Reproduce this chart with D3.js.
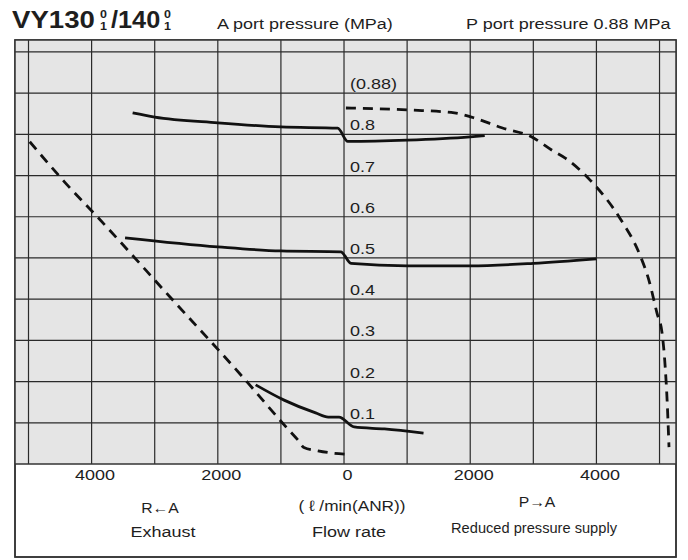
<!DOCTYPE html>
<html><head><meta charset="utf-8">
<script src="https://cdn.jsdelivr.net/npm/d3@7"></script>
<style>body{margin:0;background:#fff}</style></head>
<body><svg id="c" width="688" height="560"></svg>
<script>
// ---- data ----
const xTickValues = [-4000, -2000, 0, 2000, 4000];          // flow (l/min); negative = exhaust side
const xGridValues = [-5000, -4000, -3000, -2000, -1000, 0, 1000, 2000, 3000, 4000, 5000];
const yGridValues = [0.1, 0.2, 0.3, 0.4, 0.5, 0.6, 0.7, 0.8, 0.9, 1.0];
const pressureLabelValues = [0.1, 0.2, 0.3, 0.4, 0.5, 0.6, 0.7, 0.8, 0.9];
const pressureLabelTexts = ["0.1", "0.2", "0.3", "0.4", "0.5", "0.6", "0.7", "0.8", "(0.88)"];

// set pressure 0.8 MPa
const curve08 = [[-3350,0.852],[-3000,0.842],[-2000,0.828],[-1000,0.818],[-100,0.815],[60,0.783],[1000,0.786],[2000,0.794],[2230,0.797]];
// set pressure 0.5 MPa
const curve05 = [[-3470,0.549],[-2000,0.527],[-1000,0.517],[-50,0.515],[110,0.487],[1000,0.481],[2000,0.481],[3000,0.487],[4000,0.498]];
// set pressure 0.1 MPa
const curve01 = [[-1400,0.192],[-950,0.155],[-450,0.124],[-250,0.114],[-80,0.114],[160,0.090],[640,0.085],[1260,0.075]];
// exhaust characteristic (dashed)
const exhaustMax = [[-4980,0.782],[-4420,0.683],[-3910,0.600],[-2750,0.404],[-1530,0.198],[-920,0.090],[-730,0.058],[-636,0.040],[-413,0.032],[-207,0.027],[30,0.024]];
// supply characteristic at P = 0.88 MPa (dashed)
const supplyMax = [[30,0.864],[1065,0.859],[1750,0.852],[2020,0.842],[2500,0.816],[2970,0.794],[3290,0.762],[3500,0.743],[3900,0.689],[4370,0.597],[4690,0.507],[4830,0.447],[4960,0.366],[5040,0.318],[5090,0.235],[5120,0.155],[5150,0.041]];

// ---- layout ----
const svg = d3.select("#c");
const L = 15, R = 676, T = 40, B = 464, BOT = 557;
const x = d3.scaleLinear().domain([-5214, 5261]).range([L, R]);
const y = d3.scaleLinear().domain([0, 1.029]).range([B, T]);
const ink = "#1e1e1e";
const FONT = "'Liberation Sans', Arial, Helvetica, sans-serif";

// outer white box
svg.append("rect").attr("x", L).attr("y", T).attr("width", R - L).attr("height", BOT - T)
  .attr("fill", "#fff").attr("stroke", "#333").attr("stroke-width", 1.5);
// plot area
svg.append("rect").attr("x", L).attr("y", T).attr("width", R - L).attr("height", B - T)
  .attr("fill", "#e5e5e5");

// grid
const g = svg.append("g");
g.selectAll("line.v").data(xGridValues).join("line").attr("class", "v")
  .attr("x1", d => x(d)).attr("x2", d => x(d)).attr("y1", T).attr("y2", B)
  .attr("stroke", "#2a2a2a").attr("stroke-width", 1.2);
g.selectAll("line.h").data(yGridValues).join("line").attr("class", "h")
  .attr("x1", L).attr("x2", R).attr("y1", d => y(d)).attr("y2", d => y(d))
  .attr("stroke", "#2a2a2a").attr("stroke-width", 1.2);

// frame again on top
svg.append("rect").attr("x", L).attr("y", T).attr("width", R - L).attr("height", BOT - T)
  .attr("fill", "none").attr("stroke", "#333").attr("stroke-width", 1.5);
svg.append("line").attr("x1", L).attr("x2", R).attr("y1", B).attr("y2", B)
  .attr("stroke", "#333").attr("stroke-width", 1.5);

// helper for stretched text
function txt(s, px, py, size, sx, anchor, weight) {
  return svg.append("text").text(s)
    .attr("transform", `translate(${px},${py}) scale(${sx},1)`)
    .attr("font-family", FONT).attr("font-size", size)
    .attr("font-weight", weight || "normal")
    .attr("text-anchor", anchor || "start").attr("fill", ink);
}

// pressure labels inside the plot
pressureLabelValues.forEach((p, i) => {
  txt(pressureLabelTexts[i], x(0) + 6, y(p) - 4, 15, 1.2, "start");
});

// x axis tick labels
const ax = svg.append("g").attr("transform", `translate(3,${B})`)
  .call(d3.axisBottom(x).tickValues(xTickValues).tickSize(0).tickPadding(5).tickFormat(d => Math.abs(d)));
ax.select(".domain").remove();
ax.selectAll("text").attr("font-family", FONT).attr("font-size", 15).attr("fill", ink)
  .attr("transform", "scale(1.2,1)");

// curves
const line = d3.line().x(d => x(d[0])).y(d => y(d[1])).curve(d3.curveMonotoneX);
[curve08, curve05, curve01].forEach(c => {
  svg.append("path").attr("d", line(c)).attr("fill", "none").attr("stroke", "#111")
    .attr("stroke-width", 2.8).attr("stroke-linejoin", "round");
});
[exhaustMax, supplyMax].forEach(c => {
  svg.append("path").attr("d", line(c)).attr("fill", "none").attr("stroke", "#111")
    .attr("stroke-width", 2.8).attr("stroke-dasharray", "10,7");
});

// title
txt("VY130", 12, 28, 23, 1.2, "start", "bold");
txt("0", 100, 17.5, 10, 1.25, "start", "bold");
txt("1", 100, 29.5, 10, 1.25, "start", "bold");
txt("/140", 111, 28, 23, 1.1, "start", "bold");
txt("0", 164, 17.5, 10, 1.25, "start", "bold");
txt("1", 164, 29.5, 10, 1.25, "start", "bold");

// header texts
txt("A port pressure (MPa)", 217, 29, 15, 1.2, "start");
txt("P port pressure 0.88 MPa", 466, 29, 15, 1.2, "start");

// bottom texts
txt("R\u2190A", 160, 513, 15, 1.05, "middle");
txt("Exhaust", 163, 537, 15, 1.2, "middle");
txt("( \u2113 /min(ANR))", 352, 511, 15, 1.15, "middle");
txt("Flow rate", 349, 537, 15, 1.2, "middle");
txt("P\u2192A", 537, 507, 15, 1.05, "middle");
txt("Reduced pressure supply", 534, 533, 15.5, 0.945, "middle");
</script></body></html>
